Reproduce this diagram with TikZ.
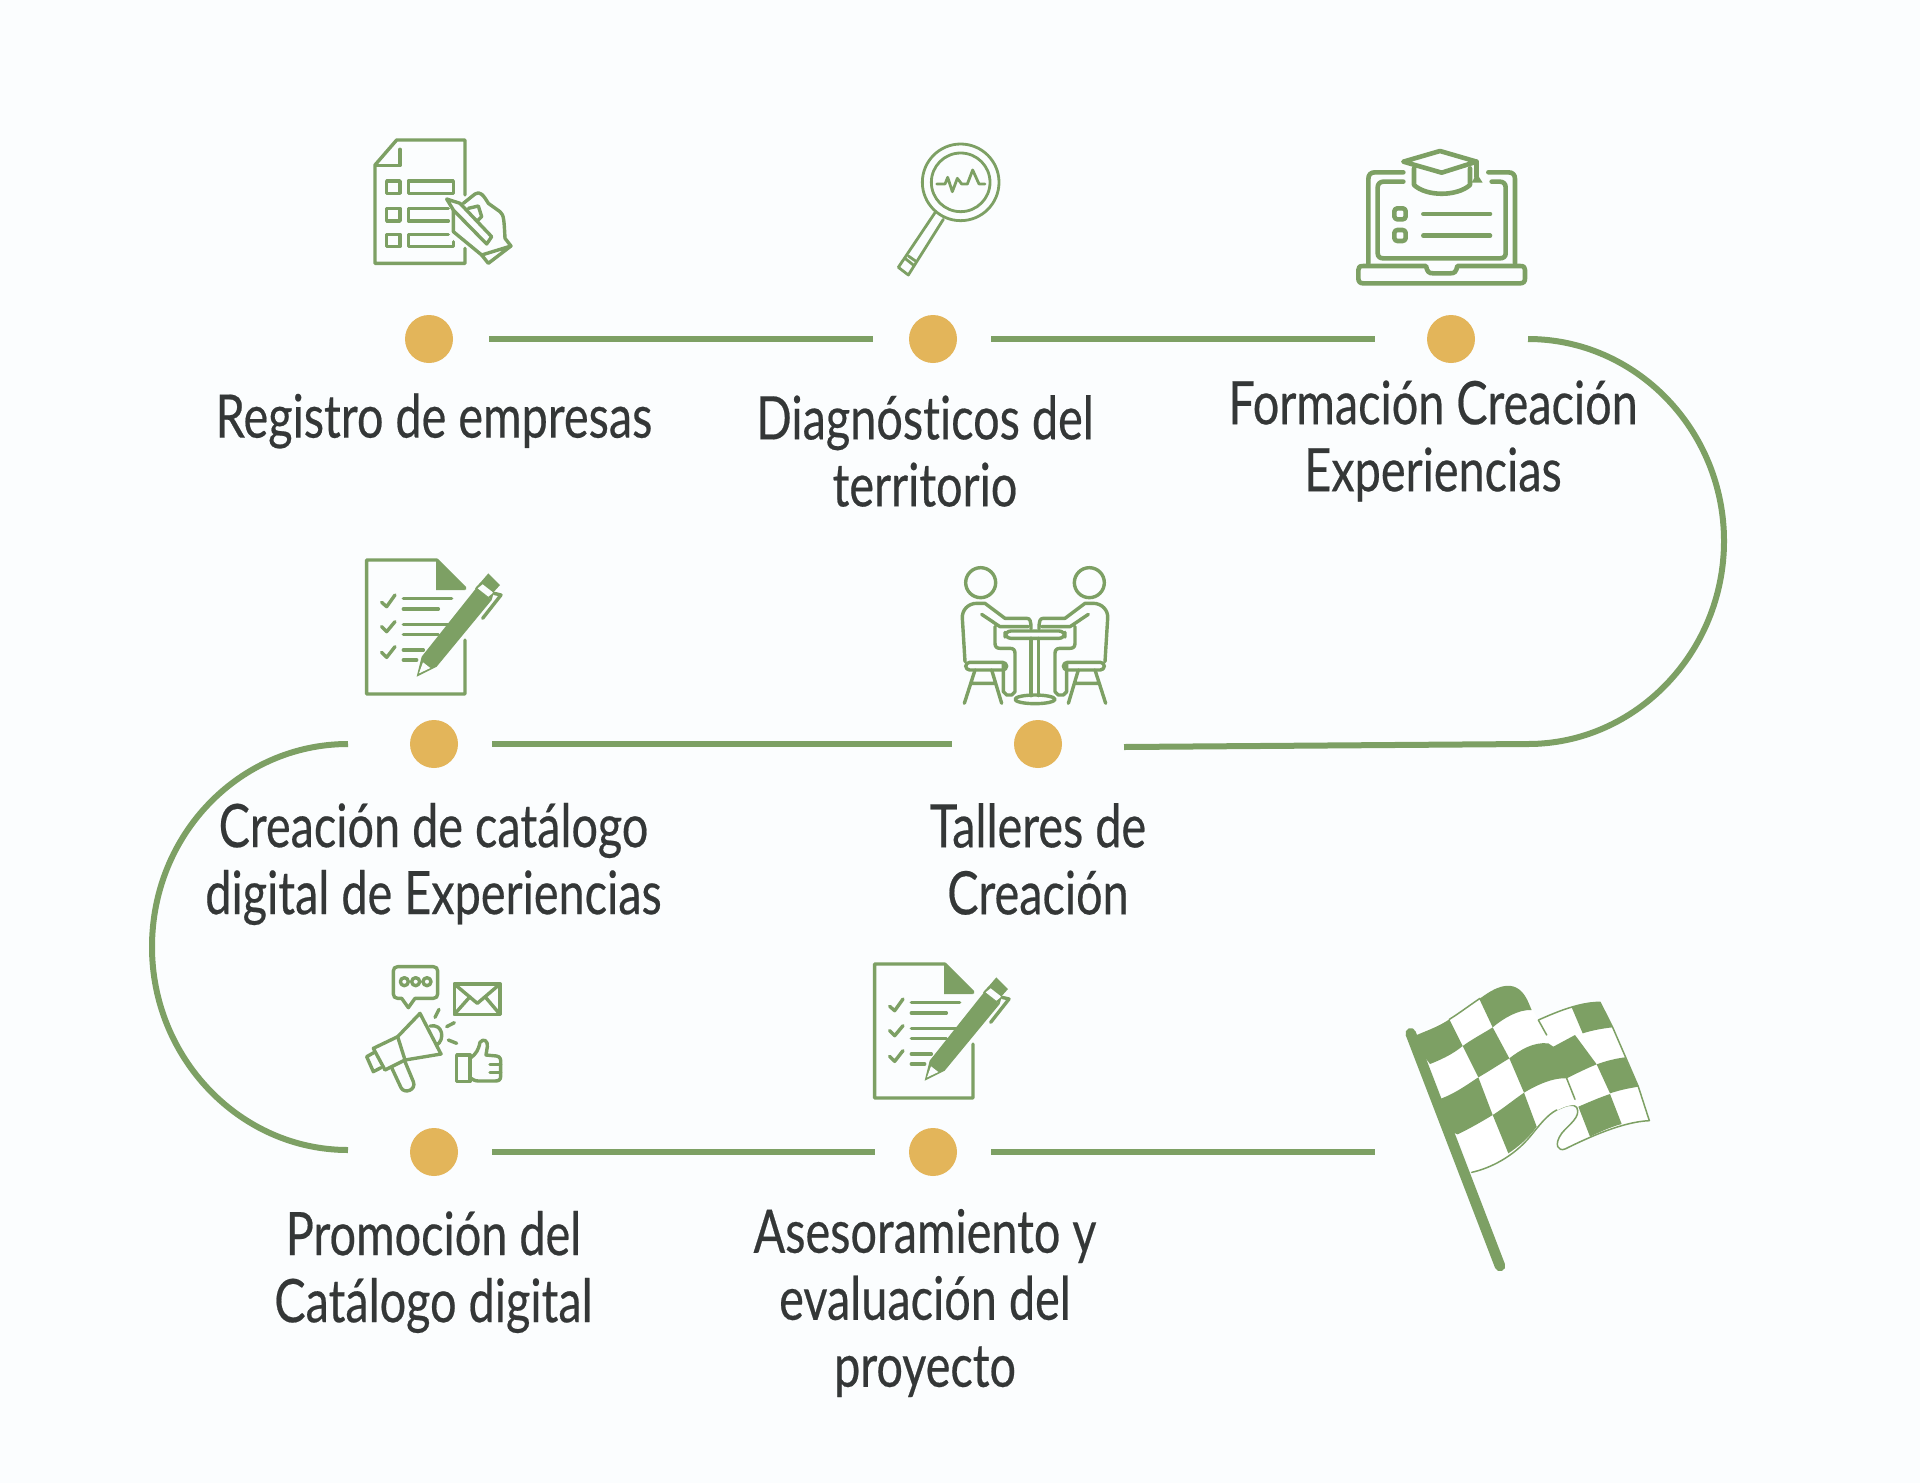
\documentclass[tikz,border=0pt]{standalone}
\usepackage{fontspec}
\setmainfont[FakeStretch=0.78,FakeBold=0.35,Ligatures=NoCommon]{Lato}
\definecolor{grn}{RGB}{125,160,100}
\definecolor{gold}{RGB}{227,181,90}
\definecolor{bgc}{RGB}{251,253,254}
\definecolor{txt}{RGB}{52,55,55}
\tikzset{
 dotn/.style={circle,fill=gold,minimum size=24pt,inner sep=0pt},
 conn/.style={draw=grn,line width=3pt},
 lbl/.style={text=txt,align=center,inner sep=0pt,font=\fontsize{30}{33.5}\selectfont},
 ic/.style={draw=grn,line width=1.7pt,line cap=round,line join=round},
 icb/.style={draw=grn,line width=2.3pt,line cap=round,line join=round},
 icbox/.style={shift={#1},scale=0.33333}
}
\newcommand{\penicon}{%
 \draw[ic] (345,285) -- (345,447) -- (50,447) -- (50,45) -- (260,45) -- (345,130);
 \fill[grn] (258,45) -- (345,135) -- (258,135) -- cycle;
 \draw[ic] (95,172) -- (110,185) -- (135,150) (95,245) -- (110,260) -- (135,230) (95,322) -- (110,337) -- (135,305);
 \draw[ic] (160,160) -- (305,160) (160,192) -- (265,192) (160,238) -- (295,238) (160,268) -- (265,268) (160,315) -- (220,315) (160,345) -- (200,345);
 \fill[grn] (200,395) -- (215,335) -- (378,130) -- (425,165) -- (260,365) -- cycle;
 \fill[bgc] (207,385) -- (219,352) -- (241,369) -- cycle;
 \fill[grn] (375,130) -- (398,105) -- (415,85) -- (450,120) -- (432,140) -- (425,165) -- cycle;
 \fill[bgc] (398,118) -- (430,143) -- (415,155) -- (383,130) -- cycle;
 \draw[ic] (432,145) -- (453,150) -- (398,220);
}
\newcommand{\sitter}{%
 \draw[ic] (107,83) circle (45);
 \draw[ic] (60,320) -- (52,190) .. controls (50,165) and (70,145) .. (95,145) -- (120,145) -- (180,190) -- (245,190) .. controls (255,190) and (258,197) .. (258,222);
 \draw[ic] (110,178) -- (165,215) -- (250,215) (150,215) -- (150,265) .. controls (150,275) and (155,280) .. (165,280) -- (195,280) .. controls (205,280) and (210,285) .. (210,295) -- (210,410) -- (200,420) -- (185,420) -- (175,410) -- (175,325);
 \draw[ic,rounded corners=2pt] (62,322) rectangle (185,345);
 \draw[ic] (90,345) -- (58,445) (140,345) -- (170,445) (80,385) -- (150,385);
}
\begin{document}
\begin{tikzpicture}[x=0.5pt,y=-0.5pt]
\useasboundingbox (0,0) rectangle (1920,1483);
\fill[bgc] (0,0) rectangle (1920,1483);
% dots
\node[dotn] (d1) at (429,339) {};
\node[dotn] (d2) at (933,339) {};
\node[dotn] (d3) at (1451,339) {};
\node[dotn] (d4) at (434,744) {};
\node[dotn] (d5) at (1038,744) {};
\node[dotn] (d6) at (434,1152) {};
\node[dotn] (d7) at (933,1152) {};
% free ends
\coordinate (ra) at (1528,339);
\coordinate (rb) at (1528,744);
\coordinate (rc) at (1124,747);
\coordinate (la) at (348,744);
\coordinate (lb) at (348,1150);
\coordinate (fe) at (1375,1152);
% connectors
\draw[conn,shorten <=18pt,shorten >=18pt] (d1) -- (d2);
\draw[conn,shorten <=17pt,shorten >=26pt] (d2) -- (d3);
\draw[conn] (ra) .. controls (1636,339) and (1724,430) .. (1724,541) .. controls (1724,652) and (1636,744) .. (rb);
\draw[conn] (rb) -- (rc);
\draw[conn,shorten <=17pt,shorten >=31pt] (d4) -- (d5);
\draw[conn] (la) .. controls (240,744) and (152,834) .. (152,947) .. controls (152,1058) and (240,1150) .. (lb);
\draw[conn,shorten <=17pt,shorten >=17pt] (d6) -- (d7);
\draw[conn,shorten <=17pt] (d7) -- (fe);
% labels
\node[lbl] (t1) at (434,421) {Registro de empresas};
\node[lbl] (t2) at (925,451) {Diagnósticos del\\territorio};
\node[lbl] (t3) at (1433,441) {Formación Creación\\Experiencias};
\node[lbl] (t4) at (433.5,864) {Creación de catálogo\\digital de Experiencias};
\node[lbl] (t5) at (1038,859) {Talleres de\\Creación};
\node[lbl] (t6) at (433.5,1272) {Promoción del\\Catálogo digital};
\node[lbl] (t7) at (925,1303) {Asesoramiento y\\evaluación del\\proyecto};
% icon 1
\begin{scope}[icbox={(350,120)}]
 \draw[ic] (345,225) -- (345,60) -- (140,60) -- (75,135) -- (75,430) -- (345,430) -- (345,385);
 \draw[ic] (150,88) -- (150,137) -- (78,137);
 \draw[ic] (110,183) rectangle (150,220) (110,265) rectangle (150,303) (110,343) rectangle (150,380);
 \draw[ic] (175,183) rectangle (310,220);
 \draw[ic] (295,265) -- (175,265) -- (175,303) -- (295,303);
 \draw[ic] (295,343) -- (175,343) -- (175,380) -- (310,380) -- (310,365);
 \draw[ic] (290,237) -- (330,250) -- (425,350) -- (410,372) -- (310,270) -- cycle;
 \draw[ic] (340,250) -- (375,222) .. controls (390,212) and (400,225) .. (415,250) -- (450,275) .. controls (462,285) and (462,300) .. (465,355) -- (483,378) -- (415,430) -- (395,405) -- (483,378);
 \draw[ic] (310,270) -- (310,335) -- (395,405);
 \draw[ic] (355,265) -- (385,258) -- (395,290) -- (385,300);
\end{scope}
% icon 2
\begin{scope}[icbox={(880,130)}]
 \draw[ic,line width=1.4pt] (242,157) circle (115) (242,157) circle (88);
 \draw[ic,line width=1.4pt] (170,162) -- (195,162) -- (203,142) -- (217,185) -- (232,145) -- (245,162) -- (262,162) -- (278,120) -- (297,162) -- (315,162);
 \draw[ic,line width=1.4pt] (165,248) -- (55,412) -- (85,435) -- (190,268);
 \draw[ic,line width=1.4pt] (75,385) -- (100,405);
 \draw[ic,line width=1.4pt] (85,378) -- (105,392);
\end{scope}
% icon 3
\begin{scope}[icbox={(1340,130)}]
 \draw[icb] (190,127) -- (105,127) .. controls (92,127) and (85,134) .. (85,147) -- (85,400);
 \draw[icb] (445,127) -- (505,127) .. controls (518,127) and (525,134) .. (525,147) -- (525,400);
 \draw[icb] (190,155) -- (130,155) .. controls (120,155) and (113,162) .. (113,172) -- (113,370) .. controls (113,380) and (120,385) .. (130,385) -- (480,385) .. controls (490,385) and (497,380) .. (497,370) -- (497,172) .. controls (497,162) and (490,155) .. (480,155) -- (455,155);
 \draw[icb] (70,408) -- (258,408) .. controls (262,425) and (265,430) .. (280,430) -- (330,430) .. controls (345,430) and (348,425) .. (352,408) -- (540,408) .. controls (552,408) and (555,412) .. (555,420) -- (555,445) .. controls (555,455) and (550,460) .. (540,460) -- (70,460) .. controls (60,460) and (55,455) .. (55,445) -- (55,420) .. controls (55,412) and (58,408) .. (70,408) -- cycle;
 \draw[icb] (190,95) -- (300,63) -- (410,95) -- (305,128) -- cycle;
 \draw[icb] (222,115) -- (222,165) .. controls (260,200) and (350,200) .. (390,165) -- (390,115);
 \draw[icb] (410,95) -- (410,140);
 \fill[grn] (410,130) -- (428,158) -- (395,158) -- cycle;
 \draw[icb,rounded corners=1.5pt] (163,235) rectangle (197,268);
 \draw[icb,rounded corners=1.5pt] (163,300) rectangle (197,333);
 \draw[icb] (250,252) -- (450,252) (250,317) -- (450,317);
\end{scope}
% icons 4 and 8
\begin{scope}[icbox={(350,545)}]\penicon\end{scope}
\begin{scope}[icbox={(858,949)}]\penicon\end{scope}
% icon 5
\begin{scope}[icbox={(945,555)}]
 \sitter
 \begin{scope}[shift={(540,0)},xscale=-1]\sitter\end{scope}
 \draw[ic,rounded corners=3pt] (180,228) rectangle (360,250);
 \draw[ic] (258,250) -- (258,422) (280,250) -- (280,422);
 \draw[ic] (270,433) ellipse (60 and 13);
\end{scope}
% icon 6
\begin{scope}[icbox={(355,955)}]
 \draw[ic] (140,130) -- (160,158) -- (180,130) -- (235,130) .. controls (243,130) and (248,125) .. (248,117) -- (248,48) .. controls (248,40) and (243,35) .. (235,35) -- (128,35) .. controls (120,35) and (115,40) .. (115,48) -- (115,117) .. controls (115,125) and (120,130) .. (128,130) -- cycle;
 \draw[ic] (148,80) circle (12) (182,80) circle (12) (216,80) circle (12);
 \draw[ic] (298,87) rectangle (435,178);
 \draw[ic] (298,87) -- (367,145) -- (435,87) (298,178) -- (345,125) (435,178) -- (390,125);
 \draw[ic] (55,280) -- (128,245) -- (195,175) -- (258,297) -- (150,315) -- (90,345) -- cycle;
 \draw[ic] (128,245) -- (150,315);
 \draw[ic] (58,292) -- (35,305) -- (55,350) -- (78,338);
 \draw[ic] (110,338) -- (138,398) .. controls (148,418) and (185,405) .. (175,380) -- (150,320);
 \draw[ic] (225,213) .. controls (265,205) and (270,255) .. (245,270);
 \draw[ic] (252,163) -- (240,187) (298,203) -- (275,215) (280,255) -- (305,265);
 \draw[ic] (305,300) rectangle (345,380);
 \draw[ic] (345,310) .. controls (365,295) and (370,285) .. (375,262) .. controls (385,248) and (400,258) .. (397,275) -- (393,300) -- (425,303) .. controls (437,305) and (438,315) .. (437,325) -- (437,365) .. controls (437,375) and (430,378) .. (420,378) -- (370,378) .. controls (358,378) and (352,372) .. (345,368);
 \draw[ic] (405,328) -- (437,328) (405,352) -- (437,352);
\end{scope}
% finish flag
\begin{scope}[icbox={(1390,970)}]
 \fill[white] (445,150) .. controls (480,135) and (560,97) .. (630,97) -- (668,172) -- (745,350) -- (778,452) .. controls (700,455) and (600,500) .. (525,537) .. controls (505,545) and (490,525) .. (515,490) .. controls (535,465) and (575,440) .. (560,412) -- (500,300) -- cycle;
 \draw[grn,line width=0.75pt,line join=round] (445,150) .. controls (480,135) and (560,97) .. (630,97) -- (668,172) -- (745,350) -- (778,452) .. controls (700,455) and (600,500) .. (525,537) .. controls (505,545) and (490,525) .. (515,490) .. controls (535,465) and (575,440) .. (560,412) .. controls (550,400) and (530,405) .. (500,420);
 \fill[white] (80,190) .. controls (150,165) and (200,130) .. (270,85) .. controls (310,55) and (375,15) .. (412,90) -- (470,195) -- (490,230) -- (530,325) -- (555,388) -- (555,405) .. controls (500,405) and (450,460) .. (420,500) .. controls (370,560) and (300,595) .. (245,607) -- cycle;
 \draw[grn,line width=0.75pt,line cap=round] (500,420) .. controls (470,435) and (445,470) .. (420,500) .. controls (370,560) and (300,595) .. (245,607);
 \draw[grn,line width=0.75pt,line cap=round] (445,150) -- (470,195) (530,325) -- (555,388) (178,148) .. controls (210,128) and (240,105) .. (270,85);
 \fill[grn] (80,195) .. controls (115,180) and (145,170) .. (178,148) -- (218,228) .. controls (185,255) and (150,270) .. (120,282) -- (95,250) -- cycle;
 \fill[grn] (268,87) .. controls (310,55) and (375,15) .. (412,90) -- (425,120) .. controls (385,118) and (340,145) .. (308,172) -- cycle;
 \fill[grn] (218,228) .. controls (250,205) and (280,190) .. (308,172) -- (358,265) .. controls (325,285) and (295,305) .. (265,322) -- cycle;
 \fill[grn] (358,265) .. controls (390,240) and (430,215) .. (475,220) -- (490,230) -- (555,195) -- (620,283) .. controls (590,295) and (560,310) .. (530,325) .. controls (490,322) and (440,345) .. (402,368) -- cycle;
 \fill[grn] (545,112) .. controls (575,100) and (600,97) .. (630,97) -- (668,172) .. controls (640,175) and (610,180) .. (578,190) -- cycle;
 \fill[grn] (620,283) .. controls (650,272) and (680,265) .. (705,262) -- (745,350) .. controls (715,355) and (690,360) .. (660,370) -- cycle;
 \fill[grn] (155,385) .. controls (195,370) and (230,345) .. (265,322) -- (308,435) .. controls (275,455) and (240,475) .. (203,493) -- (170,480) -- (130,400) -- cycle;
 \fill[grn] (308,435) .. controls (340,415) and (370,390) .. (402,368) -- (440,470) .. controls (415,505) and (385,530) .. (355,550) -- cycle;
 \fill[grn] (565,410) .. controls (600,395) and (630,382) .. (660,372) -- (695,462) .. controls (665,470) and (630,485) .. (600,500) -- cycle;
 \draw[grn,line width=5.3pt,line cap=round] (62,190) -- (330,888);
\end{scope}
\end{tikzpicture}
\end{document}
